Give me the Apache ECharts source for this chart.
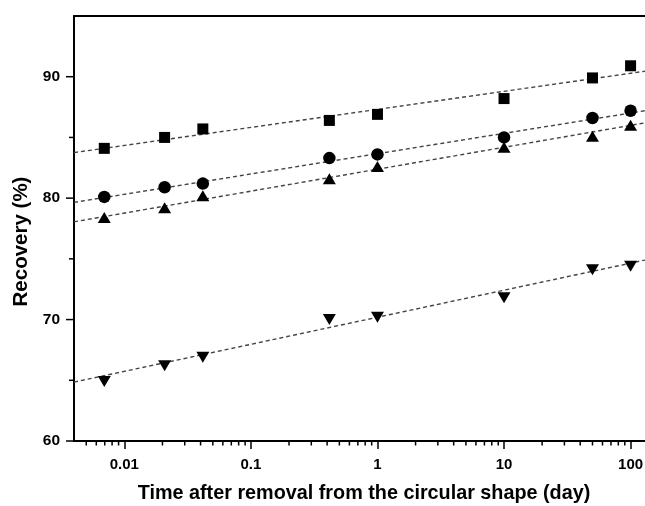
<!DOCTYPE html>
<html>
<head>
<meta charset="utf-8">
<script src="https://cdn.jsdelivr.net/npm/echarts@6/dist/echarts.min.js"></script>
<style>html,body{margin:0;padding:0;background:#fff;}#chart{width:645px;height:506px;}</style>
</head>
<body>
<div id="chart"></div>
<script>
// ---- data ----
const xDays = [0.00694, 0.0208, 0.0417, 0.4167, 1, 10, 50, 100];
const recSquare = [84.1, 85.0, 85.7, 86.4, 86.9, 88.2, 89.9, 90.9];
const recCircle = [80.1, 80.9, 81.2, 83.3, 83.6, 85.0, 86.6, 87.2];
const recTriUp = [78.4, 79.2, 80.2, 81.6, 82.6, 84.2, 85.1, 86.0];
const recTriDown = [64.9, 66.2, 66.9, 70.0, 70.2, 71.8, 74.1, 74.4];

// dashed fitted lines (end points read at the plot edges)
const fitX = [0.004, 130];
const fitSquare = [83.75, 90.45];
const fitCircle = [79.65, 87.2];
const fitTriUp = [78.05, 86.2];
const fitTriDown = [64.85, 74.9];

// axis ticks
const yMajorTicks = [60, 70, 80, 90];
const yMinorTicks = [65, 75, 85];
const xMinorTicks = [0.005, 0.006, 0.007, 0.008, 0.009,
  0.02, 0.03, 0.04, 0.05, 0.06, 0.07, 0.08, 0.09,
  0.2, 0.3, 0.4, 0.5, 0.6, 0.7, 0.8, 0.9,
  2, 3, 4, 5, 6, 7, 8, 9,
  20, 30, 40, 50, 60, 70, 80, 90];

const X_MIN = 0.004, X_MAX = 130, Y_MIN = 60, Y_MAX = 95;
const FONT = '"Liberation Sans", Arial, Helvetica, sans-serif';

const pairs = (xs, ys) => xs.map((x, i) => [x, ys[i]]);

function tickSeries(data, horizontal, len) {
  return {
    type: 'custom',
    silent: true,
    clip: false,
    z: 5,
    data: data,
    renderItem: function (params, api) {
      const p = api.coord([api.value(0), api.value(1)]);
      const shape = horizontal
        ? { x1: p[0], y1: p[1], x2: p[0] - len, y2: p[1] }
        : { x1: p[0], y1: p[1], x2: p[0], y2: p[1] + len };
      return { type: 'line', shape: shape, style: { stroke: '#000', lineWidth: 1.5 } };
    }
  };
}

function fitSeries(ys) {
  return {
    type: 'line',
    data: pairs(fitX, ys),
    symbol: 'none',
    silent: true,
    z: 1,
    lineStyle: { color: '#444', width: 1.4, type: [4, 3] }
  };
}

function markerSeries(ys, symbol, size, rotate) {
  return {
    type: 'scatter',
    data: pairs(xDays, ys),
    symbol: symbol,
    symbolSize: size,
    symbolRotate: rotate || 0,
    z: 3,
    itemStyle: { color: '#000', opacity: 1 }
  };
}

const chart = echarts.init(document.getElementById('chart'), null, { renderer: 'canvas' });
chart.setOption({
  animation: false,
  backgroundColor: '#fff',
  grid: { left: 74, top: 16, right: 0, bottom: 65, containLabel: false, outerBoundsMode: 'none' },
  xAxis: [{
    type: 'log',
    logBase: 10,
    min: X_MIN,
    max: X_MAX,
    position: 'bottom',
    name: 'Time after removal from the circular shape (day)',
    nameLocation: 'middle',
    nameGap: 43,
    nameTextStyle: { fontFamily: FONT, fontWeight: 'bold', fontSize: 19.8, color: '#000', padding: [0, 0, 0, 9] },
    axisLine: { show: true, onZero: false, lineStyle: { color: '#000', width: 2 } },
    axisTick: { show: true, inside: false, length: 8, lineStyle: { color: '#000', width: 1.5 } },
    axisLabel: {
      show: true, showMinLabel: false, showMaxLabel: false, margin: 16,
      fontFamily: FONT, fontWeight: 'bold', fontSize: 15, color: '#000'
    },
    splitLine: { show: false },
    minorTick: { show: false }
  }, {
    type: 'log',
    logBase: 10,
    min: X_MIN,
    max: X_MAX,
    position: 'top',
    axisLine: { show: true, onZero: false, lineStyle: { color: '#000', width: 2.2 } },
    axisTick: { show: false },
    axisLabel: { show: false },
    splitLine: { show: false }
  }],
  yAxis: {
    type: 'value',
    min: Y_MIN,
    max: Y_MAX,
    interval: 5,
    name: 'Recovery (%)',
    nameLocation: 'middle',
    nameGap: 42,
    nameRotate: 90,
    nameTextStyle: { fontFamily: FONT, fontWeight: 'bold', fontSize: 20.5, color: '#000', padding: [0, 26, 0, 0] },
    axisLine: { show: true, onZero: false, lineStyle: { color: '#000', width: 2 } },
    axisTick: { show: false },
    axisLabel: {
      margin: 14,
      fontFamily: FONT, fontWeight: 'bold', fontSize: 15.5, color: '#000',
      formatter: function (v) { return (v % 10 === 0 && v < Y_MAX) ? String(v) : ''; }
    },
    splitLine: { show: false }
  },
  series: [
    fitSeries(fitSquare),
    fitSeries(fitCircle),
    fitSeries(fitTriUp),
    fitSeries(fitTriDown),
    markerSeries(recSquare, 'rect', 11),
    markerSeries(recCircle, 'circle', 12.5),
    markerSeries(recTriUp, 'triangle', [13, 11]),
    markerSeries(recTriDown, 'triangle', [13, 11], 180),
    tickSeries(yMajorTicks.map(v => [X_MIN, v]), true, 8),
    tickSeries(yMinorTicks.map(v => [X_MIN, v]), true, 5),
    tickSeries(xMinorTicks.map(v => [v, Y_MIN]), false, 4.5)
  ]
});
</script>
</body>
</html>
